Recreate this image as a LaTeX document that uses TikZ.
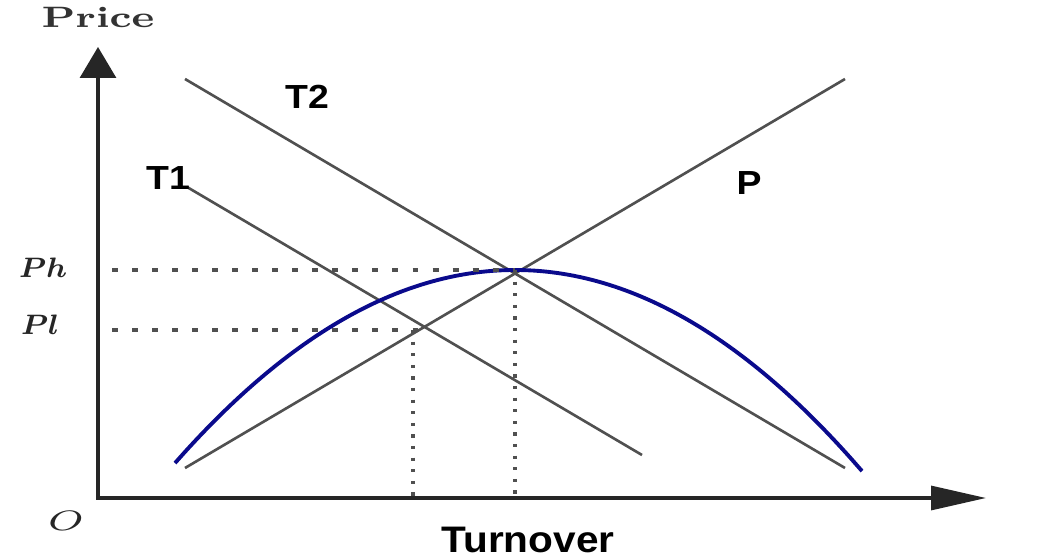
\documentclass[tikz,border=0pt]{standalone}
\usepackage{bm}
\usepackage{fontspec}
\newfontfamily\labfont{Liberation Sans}
\usepackage{tikz}
\usetikzlibrary{arrows.meta,positioning}
\newcommand{\widen}[2]{\scalebox{#1}[1]{#2}}

\begin{document}
\begin{tikzpicture}[font=\small]
    \definecolor{cLine}{RGB}{80,80,80}\definecolor{cCurve}{RGB}{10,10,140}
    \tikzset{
      axis/.style={black!85,line width=0.9pt},
      tline/.style={cLine,line width=0.75pt},
      guide/.style={cLine,line width=1pt,dash pattern=on 1.7pt off 4pt},
      dotguide/.style={cLine,line width=1pt,dash pattern=on 0.9pt off 2.4pt},
      curvelab/.style={font=\labfont\bfseries\fontsize{9.5}{11}\selectfont},
      ticklab/.style={font=\fontsize{8.4}{10}\selectfont,black!85,anchor=base}
    }
    \useasboundingbox (0,0) rectangle (10.46,5.57);
    % ---------- axes ----------
    \coordinate (O) at (0.98,0.59);
    \coordinate (ytop) at (0.98,5.10);
    \coordinate (xend) at (9.86,0.59);
    \draw[axis,{Triangle[length=3.1mm,width=3.6mm]}-{Triangle[length=5.5mm,width=2.4mm]}] (ytop) -- (O) -- (xend);
    \node[anchor=base,black!80,font=\bfseries\fontsize{8.4}{10}\selectfont] (price) at (0.98,5.29) {\widen{1.37}{Price}};
    \node[font=\labfont\bfseries\fontsize{10.5}{13}\selectfont] (turn) at (5.28,0.17) {\widen{1.1}{Turnover}};
    \node[anchor=base,black!85,font=\fontsize{8.3}{10}\selectfont] (orig) at (0.66,0.27) {\widen{1.5}{$O$}};
    % ---------- supply / demand lines ----------
    \coordinate (t2a) at (1.85,4.78); \coordinate (t2b) at (8.45,0.89);
    \coordinate (t1a) at (1.87,3.70); \coordinate (t1b) at (6.42,1.02);
    \coordinate (pa) at (1.85,0.89);  \coordinate (pb) at (8.45,4.78);
    \draw[tline] (t2a) -- (t2b);
    \draw[tline] (t1a) -- (t1b);
    \draw[tline] (pa) -- (pb);
    \node[curvelab] (labT2) at (3.07,4.60) {\widen{1.12}{T2}};
    \node[curvelab] (labT1) at (1.68,3.79) {\widen{1.12}{T1}};
    \node[curvelab] (labP) at (7.49,3.74) {\widen{1.12}{P}};
    % ---------- revenue curve ----------
    \draw[cCurve,line width=1.1pt,domain=1.75:8.62,smooth,samples=60] plot(\x,{2.87-0.167*(\x-5.15)*(\x-5.15)});
    % ---------- price levels ----------
    \coordinate (hi) at (5.15,2.87);
    \coordinate (lo) at (4.13,2.27);
    \node[ticklab] (ph) at (0.43,2.80) {\widen{1.05}{$\bm{Ph}$}};
    \node[ticklab] (pl) at (0.40,2.23) {\widen{1.05}{$\bm{Pl}$}};
    \draw[guide] (1.12,2.87) -- (hi);
    \draw[guide] (1.12,2.27) -- (4.22,2.27);
    \draw[dotguide] (hi) -- (hi |- O);
    \draw[dotguide] (lo) -- (lo |- O);
\end{tikzpicture}
\end{document}
